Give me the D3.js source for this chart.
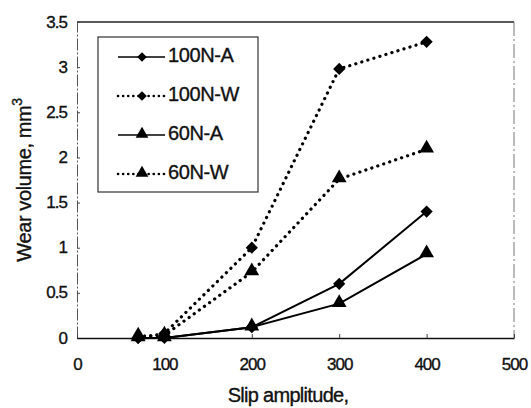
<!DOCTYPE html>
<html>
<head>
<meta charset="utf-8">
<script src="https://cdn.jsdelivr.net/npm/d3@7"></script>
<style>
  html, body { margin: 0; padding: 0; background: #fff; }
  svg { display: block; font-family: "Liberation Sans", Arial, sans-serif; }
  svg text { stroke: #111; stroke-width: 0.35px; }
</style>
</head>
<body>
<svg id="chart" width="531" height="408"></svg>
<script>
// Slip amplitude values (x) shared by every series
const slipAmplitude = [70, 100, 200, 300, 400];

// Wear volume, mm³, per test condition
const wear100NA = [0.00, 0.00, 0.12, 0.60, 1.40];
const wear100NW = [0.00, 0.05, 1.00, 2.98, 3.28];
const wear60NA  = [0.00, 0.00, 0.12, 0.38, 0.93];
const wear60NW  = [0.02, 0.03, 0.73, 1.76, 2.09];

const seriesNames = ["100N-A", "100N-W", "60N-A", "60N-W"];

const xTicks = [0, 100, 200, 300, 400, 500];
const yTicks = [0, 0.5, 1, 1.5, 2, 2.5, 3, 3.5];

const series = [
  { name: seriesNames[0], values: wear100NA, marker: "diamond",  dotted: false },
  { name: seriesNames[1], values: wear100NW, marker: "diamond",  dotted: true },
  { name: seriesNames[2], values: wear60NA,  marker: "triangle", dotted: false },
  { name: seriesNames[3], values: wear60NW,  marker: "triangle", dotted: true }
];

const svg = d3.select("#chart");
const plot = { left: 77, right: 514, top: 22, bottom: 338 };

const x = d3.scaleLinear().domain([0, 500]).range([plot.left, plot.right]);
const y = d3.scaleLinear().domain([0, 3.5]).range([plot.bottom, plot.top]);

// Frame: top and right edges of the plot area
svg.append("line")
  .attr("x1", plot.left).attr("x2", plot.right)
  .attr("y1", plot.top).attr("y2", plot.top)
  .attr("stroke", "#222").attr("stroke-width", 1.3);
svg.append("line")
  .attr("x1", plot.right).attr("x2", plot.right)
  .attr("y1", plot.top).attr("y2", plot.bottom)
  .attr("stroke", "#777").attr("stroke-width", 1)
  .attr("stroke-dasharray", "14,3,2,3");

// Y axis with inward ticks
const yAxis = d3.axisLeft(y).tickValues(yTicks).tickSizeInner(-3).tickSizeOuter(0)
  .tickFormat(d => d3.format("")(d));
const gy = svg.append("g").attr("transform", `translate(${plot.left},0)`).call(yAxis);
gy.select(".domain").attr("stroke", "#555").attr("stroke-width", 1)
  .attr("stroke-dasharray", "12,2,2,2");
gy.selectAll(".tick line").attr("stroke", "#444");
gy.selectAll(".tick text")
  .attr("x", -10).attr("dy", null)
  .attr("y", 5)
  .attr("font-size", 17).attr("letter-spacing", "-1px")
  .attr("fill", "#111").attr("font-family", "Liberation Sans, Arial, sans-serif");

// X axis with inward ticks
const xAxis = d3.axisBottom(x).tickValues(xTicks).tickSizeInner(-4).tickSizeOuter(0);
const gx = svg.append("g").attr("transform", `translate(0,${plot.bottom})`).call(xAxis);
gx.select(".domain").attr("stroke", "#111").attr("stroke-width", 1.5);
gx.selectAll(".tick line").attr("stroke", "#444");
gx.selectAll(".tick text")
  .attr("y", 32).attr("dy", null)
  .attr("font-size", 17).attr("letter-spacing", "-1px")
  .attr("fill", "#111").attr("font-family", "Liberation Sans, Arial, sans-serif");

// Axis titles
svg.append("text")
  .attr("x", 288).attr("y", 402)
  .attr("text-anchor", "middle")
  .attr("font-size", 20).attr("letter-spacing", "-0.7px").attr("fill", "#111")
  .text("Slip amplitude,");

const yTitle = svg.append("text")
  .attr("transform", "translate(31,180) rotate(-90)")
  .attr("text-anchor", "middle")
  .attr("font-size", 20).attr("letter-spacing", "-0.4px").attr("fill", "#111");
yTitle.append("tspan").text("Wear volume, mm");
yTitle.append("tspan").attr("dy", -9).attr("font-size", 14).text("3");

// Marker shapes
const symbolFor = (m, size) => d3.symbol()
  .type(m === "diamond" ? d3.symbolDiamond2 : d3.symbolTriangle)
  .size(size)();

const line = d3.line()
  .x((d, i) => x(slipAmplitude[i]))
  .y(d => y(d));

function styleLine(sel, dotted) {
  if (dotted) {
    sel.attr("stroke-width", 3.2)
      .attr("stroke-linecap", "round")
      .attr("stroke-dasharray", "0.1,6.2");
  } else {
    sel.attr("stroke-width", 2);
  }
  return sel;
}

const gSeries = svg.append("g");
series.forEach(s => {
  styleLine(gSeries.append("path")
    .attr("d", line(s.values))
    .attr("fill", "none")
    .attr("stroke", "#000"), s.dotted);
  gSeries.selectAll(null)
    .data(s.values)
    .enter().append("path")
    .attr("transform", (d, i) => `translate(${x(slipAmplitude[i])},${y(d) + (s.marker === "triangle" ? -1 : 0)})`)
    .attr("d", symbolFor(s.marker, s.marker === "diamond" ? 95 : 95))
    .attr("fill", "#000");
});

// Legend
const legend = svg.append("g");
legend.append("rect")
  .attr("x", 98).attr("y", 37).attr("width", 160).attr("height", 155)
  .attr("fill", "#fff").attr("stroke", "#333").attr("stroke-width", 1.2);

const rowY = [57, 96, 135, 174];
series.forEach((s, i) => {
  const ry = rowY[i];
  styleLine(legend.append("line")
    .attr("x1", 118).attr("x2", 165)
    .attr("y1", ry).attr("y2", ry)
    .attr("stroke", "#000"), s.dotted)
    .attr("stroke-width", s.dotted ? 2.6 : 1.6)
    .attr("stroke-dasharray", s.dotted ? "0.1,5" : null);
  legend.append("path")
    .attr("transform", `translate(142,${ry + (s.marker === "triangle" ? -1 : 0)})`)
    .attr("d", symbolFor(s.marker, s.marker === "diamond" ? 60 : 70))
    .attr("fill", "#000");
  legend.append("text")
    .attr("x", 168).attr("y", ry + 5)
    .attr("font-size", 20).attr("letter-spacing", "-0.4px").attr("fill", "#111")
    .text(s.name);
});
</script>
</body>
</html>
